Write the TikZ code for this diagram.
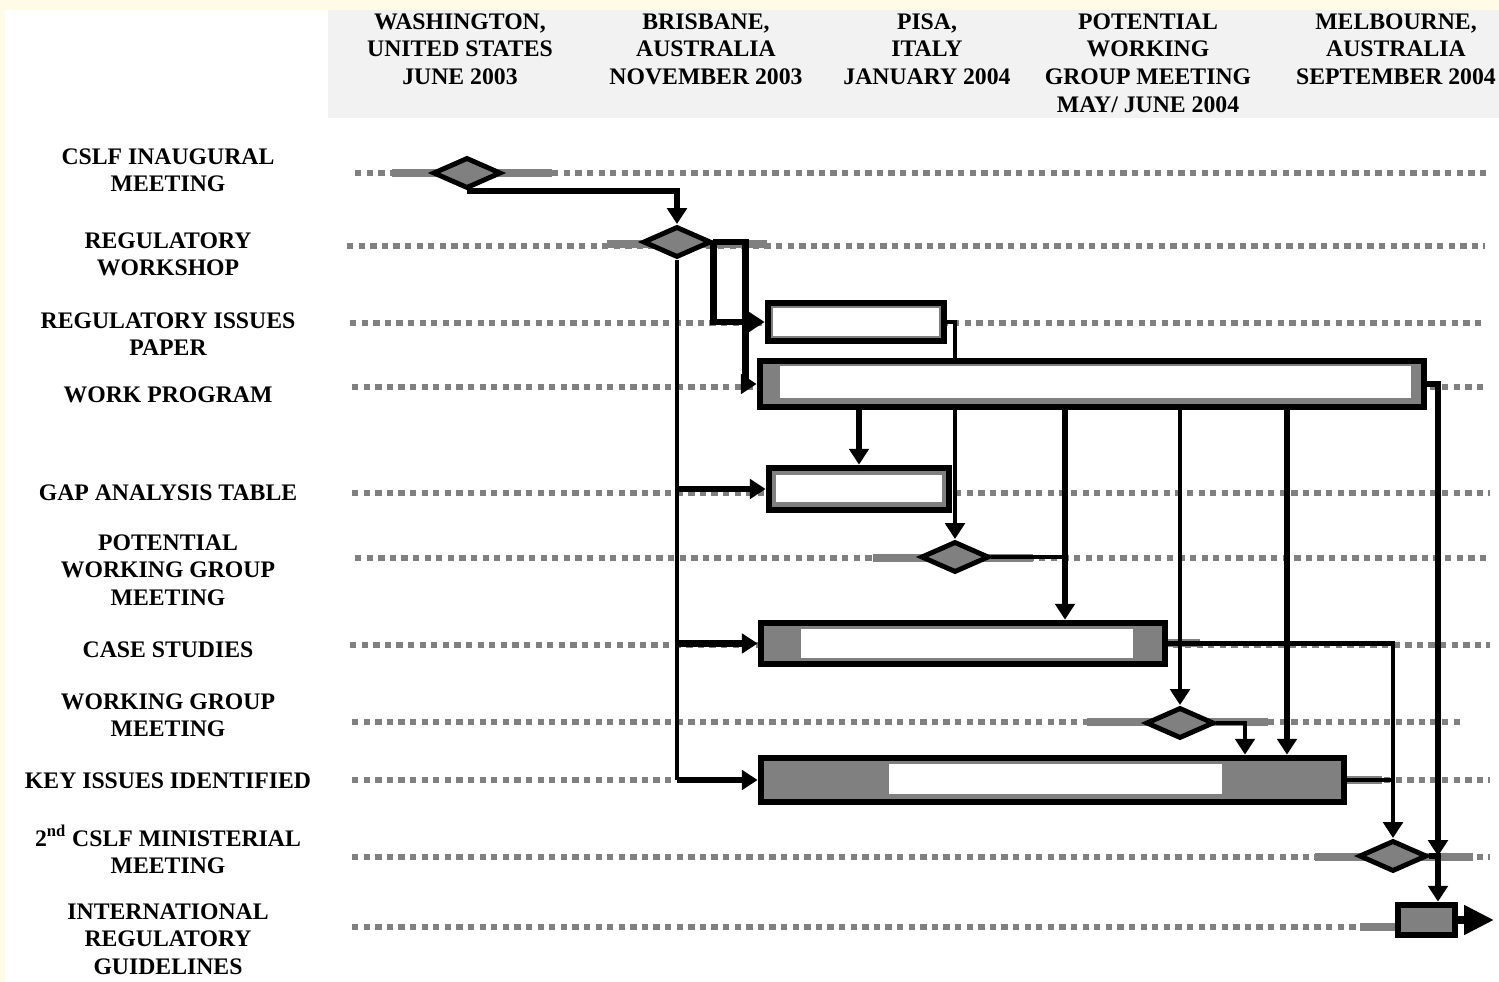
\documentclass[tikz,border=0pt]{standalone}
\usepackage{fontspec}
\setmainfont{Liberation Serif}
\usepackage{xcolor}
\usepackage{tikz}
\usetikzlibrary{arrows.meta,positioning,calc,shapes.geometric,fit}
\definecolor{cream}{RGB}{255,251,230}
\definecolor{headgray}{RGB}{242,242,242}
\definecolor{midgray}{RGB}{128,128,128}

\begin{document}
\begin{tikzpicture}[x=0.02cm,y=-0.02cm,font=\fontsize{13.5}{15.9}\selectfont\bfseries]
\useasboundingbox (0,0) rectangle (1499,982);
\fill[cream] (0,0) rectangle (1499,982);
\fill[white] (5,10) rectangle (1499,982);
\fill[headgray] (328,10) rectangle (1499,118);
\tikzset{lbl/.style={anchor=north,align=center,inner sep=0pt}}
\tikzset{track/.style={midgray,line width=3.4pt,dash pattern=on 3.6pt off 3pt}}
\tikzset{slack/.style={midgray,line width=4.8pt}}
\tikzset{mile/.style={diamond,draw=black,fill=midgray,line width=2.8pt,minimum width=1.36cm,minimum height=0.62cm,inner sep=0pt}}
\tikzset{bar/.style={draw=black,fill=midgray,line width=3.8pt,inner sep=0pt}}
\tikzset{core/.style={fill=white,draw=midgray,line width=0.7pt}}
\tikzset{flow/.style={-{Triangle[length=9pt,width=11pt]},line width=3.9pt}}
\tikzset{link/.style={line width=2.8pt}}
\tikzset{tap/.style={link,-{Triangle[length=9pt,width=11pt]}}}
% venues
\foreach \x/\txt [count=\i] in {460/{WASHINGTON,\\UNITED STATES\\JUNE 2003},
  706/{BRISBANE,\\AUSTRALIA\\NOVEMBER 2003}, 927/{PISA,\\ITALY\\JANUARY 2004},
  1148/{POTENTIAL\\WORKING\\GROUP MEETING\\MAY/ JUNE 2004},
  1396/{MELBOURNE,\\AUSTRALIA\\SEPTEMBER 2004}}
  \node[lbl] (head\i) at (\x,13) {\txt};
% activities
\foreach \ty/\txt [count=\i] in {148/{CSLF INAUGURAL\\MEETING}, 232/{REGULATORY\\WORKSHOP},
  312/{REGULATORY ISSUES\\PAPER}, 386/{WORK PROGRAM}, 484/{GAP ANALYSIS TABLE},
  534/{POTENTIAL\\WORKING GROUP\\MEETING}, 641/{CASE STUDIES}, 693/{WORKING GROUP\\MEETING},
  772/{KEY ISSUES IDENTIFIED}, 825/{2\textsuperscript{nd} CSLF MINISTERIAL\\MEETING},
  903/{INTERNATIONAL\\REGULATORY\\GUIDELINES}}
  \node[lbl] (row\i) at (168,\ty) {\txt};
% time lines
\foreach \ty/\xa/\xb in {173/355/1490, 246/347/1485, 323/350/1485, 387/352/1488,
  493/352/1490, 558/355/1490, 645/350/1490, 722/352/1465, 780/352/1490,
  857/352/1490, 927/352/1362}
  \draw[track] (\xa,\ty) -- (\xb,\ty);
\foreach \ty/\xa/\xb in {173/392/552, 244/607/767, 558/873/1033, 643/1167/1200,
  722/1087/1268, 780/1347/1382, 857/1315/1473, 927/1360/1398}
  \draw[slack] (\xa,\ty) -- (\xb,\ty);
% milestones
\node[mile] (inaug) at (467,173) {};
\node[mile] (wshop) at (677,242) {};
\node[mile] (potmeet) at (955,557) {};
\node[mile] (wgmeet) at (1180,723) {};
\node[mile] (minmeet) at (1393,856) {};
% tasks
\node[bar,fit={(768,303) (944,341)}] (issues) {};
\draw[core] (772,307) rectangle (940,337);
\node[bar,fit={(760,361) (1424,407)}] (workprog) {};
\draw[core] (779,365) rectangle (1412,399);
\node[bar,fit={(769,468) (949,510)}] (gap) {};
\draw[core] (775,474) rectangle (943,503);
\node[bar,fit={(761,623) (1165,664)}] (cases) {};
\draw[core] (800,628) rectangle (1134,659);
\node[bar,fit={(761,758) (1344,802)}] (keyissues) {};
\draw[core] (888,763) rectangle (1223,795);
\node[bar,fit={(1398,905) (1455,935)}] (guide) {};
\coordinate (xcase) at (1065,0);
\coordinate (xwg) at (1245,0);
\coordinate (xkey) at (1287,0);
\coordinate (rail) at (1438,0);
\coordinate (out) at (1494,920);
% links
\draw[flow] (inaug.south) -| (wshop.north);
\draw[flow] (wshop.east) -- ++(32,0) |- (workprog.west);
\draw[flow] (wshop.east) |- (issues.west);
\draw[link] (wshop.south) -- (wshop.south |- keyissues.west);
\foreach \b in {gap,cases,keyissues}
  \draw[flow] (wshop.south |- \b.west) -- (\b.west);
\draw[link] (issues.east) -| (workprog.north -| potmeet.north);
\draw[flow] (workprog.south -| gap.north) -- (gap.north);
\draw[tap] (workprog.south -| potmeet.north) -- (potmeet.north);
\draw[flow] (workprog.south -| xcase) -- (cases.north -| xcase);
\draw[tap] (workprog.south -| wgmeet.north) -- (wgmeet.north);
\draw[flow] (workprog.south -| xkey) -- (keyissues.north -| xkey);
\draw[flow] (workprog.east) -| (minmeet.east -| rail);
\draw[link] (potmeet.east) -- (potmeet.east -| xcase);
\draw[tap] (wgmeet.east) -| (keyissues.north -| xwg);
\draw[tap] (cases.east) -| (minmeet.north);
\draw[link] (keyissues.east) -- (keyissues.east -| minmeet.north);
\draw[flow] (minmeet.east) -| (guide.north -| rail);
\draw[-{Triangle[length=17pt,width=16pt]},line width=4pt] (guide.east) -- (out);
\end{tikzpicture}
\end{document}
